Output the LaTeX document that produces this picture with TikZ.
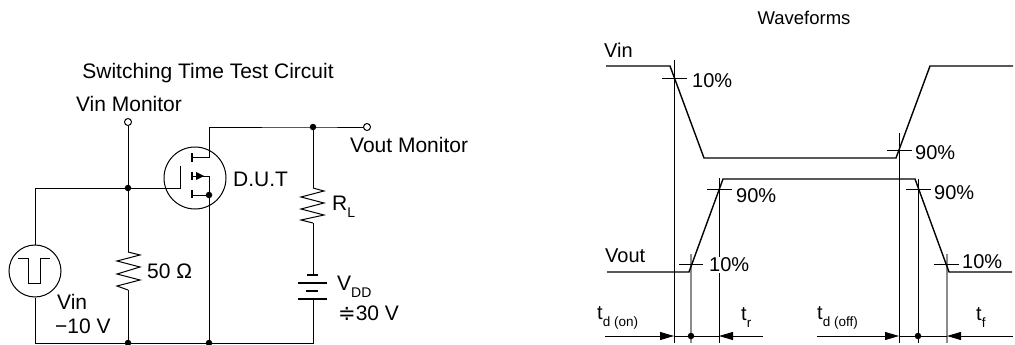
\documentclass[tikz,border=0pt]{standalone}
\usepackage{fontspec}
\setmainfont{Liberation Sans}
\newfontfamily\dejavu{DejaVu Sans}
\usetikzlibrary{arrows.meta}
\newcommand{\sbs}[1]{\raisebox{-0.35em}{\fontsize{14}{16}\selectfont #1}}
\newcommand{\sbw}[1]{\raisebox{-0.35em}{\fontsize{13.5}{16}\selectfont #1}}
\begin{document}
\begin{tikzpicture}[x=1pt,y=-1pt,
  wire/.style={line width=1pt},
  wave/.style={line width=1.4pt},
  thinl/.style={line width=0.9pt},
  grayline/.style={line width=1.6pt, draw=black!45},
  dot/.style={circle,fill,inner sep=0pt,minimum size=6.5pt},
  term/.style={circle,draw,fill=white,inner sep=0pt,minimum size=7pt,line width=1pt},
  lbl/.style={font=\fontsize{21}{24}\selectfont, inner sep=0pt},
  wl/.style={font=\fontsize{20}{23}\selectfont, inner sep=0pt},
  wlw/.style={wl, fill=white, inner sep=1pt},
  tip/.style={-{Triangle[length=14pt,width=8pt]}},
  plate/.style={line width=1.8pt}
]
\useasboundingbox (0,0) rectangle (1015,345);

% ---------------- circuit ----------------
\node[lbl] (title) at (208,73) {Switching Time Test Circuit};
\node[lbl] (vinmlbl) at (129,104) {Vin Monitor};
\node[term] (vinm) at (128,122) {};
\node[term] (voutm) at (367,127) {};
\node[lbl, anchor=west] (voutlbl) at (350,145) {Vout Monitor};

\coordinate (jg) at (128,188);
\coordinate (gl) at (35,188);
\coordinate (gc) at (180,188);
\coordinate (gt) at (180,166);
\coordinate (r1t) at (128,252);
\coordinate (r1b) at (128,290);
\coordinate (jb1) at (128,343);
\coordinate (jb2) at (209,343);
\coordinate (bl) at (35,343);
\coordinate (br) at (313,343);
\coordinate (dtop) at (209,127);
\coordinate (jd) at (313,127);
\coordinate (rlt) at (313,188);
\coordinate (rlb) at (313,223);
\coordinate (batt) at (313,275);
\coordinate (batb) at (313,299);
\coordinate (js) at (209,195);

% source
\node[circle,draw,line width=1pt,minimum size=52pt,inner sep=0pt] (src) at (35,271) {};
\draw[wire] (18,258) -- (28,258) -- (28,283) -- (40,283) -- (40,258) -- (50,258);
\draw[wire] (gl) -- (src.north);
\draw[wire] (src.south) -- (bl) -- (br) -- (batb);
\node[lbl, anchor=west] (vinlbl) at (57,302) {Vin};
\node[lbl, anchor=west] (vinv) at (55,326) {−10 V};

% gate line
\draw[wire] (gl) -- (gc) -- (gt);
\draw[wire] (vinm.south) -- (r1t);
\draw[wire] (r1t) -- (140,255) -- (117,261) -- (140,267) -- (117,274) -- (140,280) -- (117,286) -- (r1b);
\draw[wire] (r1b) -- (jb1);
\node[lbl, anchor=west] (r1lbl) at (147,271) {50 Ω};

% MOSFET
\node[circle,draw,line width=1pt,minimum size=62pt,inner sep=0pt] (dut) at (195,178) {};
\draw[plate, line width=1.5pt] (192,153) -- (192,162) (192,172) -- (192,180) (192,190) -- (192,198);
\draw[wire] (192,157) -- (209,157) -- (dtop) -- (jd) -- (voutm.west);
\draw[wire] (192,176) -- (209,176) -- (jb2);
\draw[wire] (192,195) -- (js);
\fill (196,172) -- (204,176) -- (196,180) -- cycle;
\node[lbl, anchor=west] (dutlbl) at (233,179) {D.U.T};

% load resistor and battery
\draw[wire] (jd) -- (rlt);
\draw[wire] (rlt) -- (324,191) -- (301,197) -- (324,203) -- (301,209) -- (324,215) -- (301,220) -- (rlb);
\draw[wire] (rlb) -- (batt);
\node[lbl, anchor=west] (rllbl) at (332,207) {R\sbs{L}};
\draw[plate] (307,275) -- (318,275);
\draw[plate] (298,283) -- (327,283);
\draw[plate] (306,291) -- (318,291);
\draw[plate] (298,299) -- (327,299);
\node[lbl, anchor=west] (vddlbl) at (337,287) {V\sbs{DD}};
\node[lbl, anchor=west] (vddv) at (338,313) {{\dejavu ≑}30 V};

\foreach \p in {jg,jb1,jb2,jd,js} \node[dot] at (\p) {};

% ---------------- waveforms ----------------
\node[font=\fontsize{18.5}{21}\selectfont, inner sep=0pt] (wtitle) at (804,18) {Waveforms};
\node[wl, anchor=west] (vinw) at (604,50) {Vin};
\node[wl, anchor=west] (voutw) at (605,256) {Vout};

% vertical reference lines
\coordinate (a1) at (674,60);  \coordinate (a1b) at (674,343);
\coordinate (a2) at (691,254); \coordinate (a2b) at (691,343);
\coordinate (a3) at (719,178); \coordinate (a3b) at (719,343);
\coordinate (b1) at (899,133); \coordinate (b1b) at (899,343);
\coordinate (b2) at (918,179); \coordinate (b2b) at (918,343);
\coordinate (b3) at (947,254); \coordinate (b3b) at (947,343);
\draw[thinl] (a1) -- (a1b);
\draw[thinl] (a3) -- (a3b);
\draw[thinl] (b1) -- (b1b);
\draw[thinl] (b2) -- (b2b);
\draw[grayline] (a2) -- (a2b);
\draw[grayline] (b3) -- (b3b);

% waveforms
\draw[wave] (606,66) -- (670,66) -- (704,158) -- (896,158) -- (930,66) -- (1013,66);
\draw[wave] (607,272) -- (689,272) -- (723,179) -- (915,179) -- (949,272) -- (1012,272);

% ticks
\draw[thinl] (662,78) -- (687,78);
\draw[thinl] (887,150) -- (912,150);
\draw[thinl] (679,264) -- (703,264);
\draw[thinl] (707,189) -- (732,189);
\draw[thinl] (906,189) -- (931,189);
\draw[thinl] (934,264) -- (959,264);

\node[wl, anchor=west] (p1) at (692,81) {10\%};
\node[wl, anchor=west] (p2) at (915,153) {90\%};
\node[wlw, anchor=west] (p3) at (708,265) {10\%};
\node[wl, anchor=west] (p4) at (736,196) {90\%};
\node[wl, anchor=west] (p5) at (934,193) {90\%};
\node[wl, anchor=west] (p6) at (962,262) {10\%};

% time arrows
\coordinate (l1) at (605,336); \coordinate (m1) at (674,336); \coordinate (d1) at (691,336);
\coordinate (n1) at (719,336); \coordinate (r1) at (763,336);
\coordinate (l2) at (817,336); \coordinate (m2) at (899,336); \coordinate (d2) at (918,336);
\coordinate (n2) at (947,336); \coordinate (r2) at (1013,336);
\draw[thinl, tip] (l1) -- (m1);
\draw[thinl] (m1) -- (n1);
\draw[thinl, tip] (r1) -- (n1);
\draw[thinl, tip] (l2) -- (m2);
\draw[thinl] (m2) -- (n2);
\draw[thinl, tip] (r2) -- (n2);
\node[dot] at (d1) {};
\node[dot] at (d2) {};

\node[wl, anchor=west] (tdon) at (597,318) {t\sbw{d (on)}};
\node[wl, anchor=west] (tr) at (741,318) {t\sbw{r}};
\node[wl, anchor=west] (tdoff) at (817,318) {t\sbw{d (off)}};
\node[wl, anchor=west] (tf) at (976,318) {t\sbw{f}};
\end{tikzpicture}
\end{document}
